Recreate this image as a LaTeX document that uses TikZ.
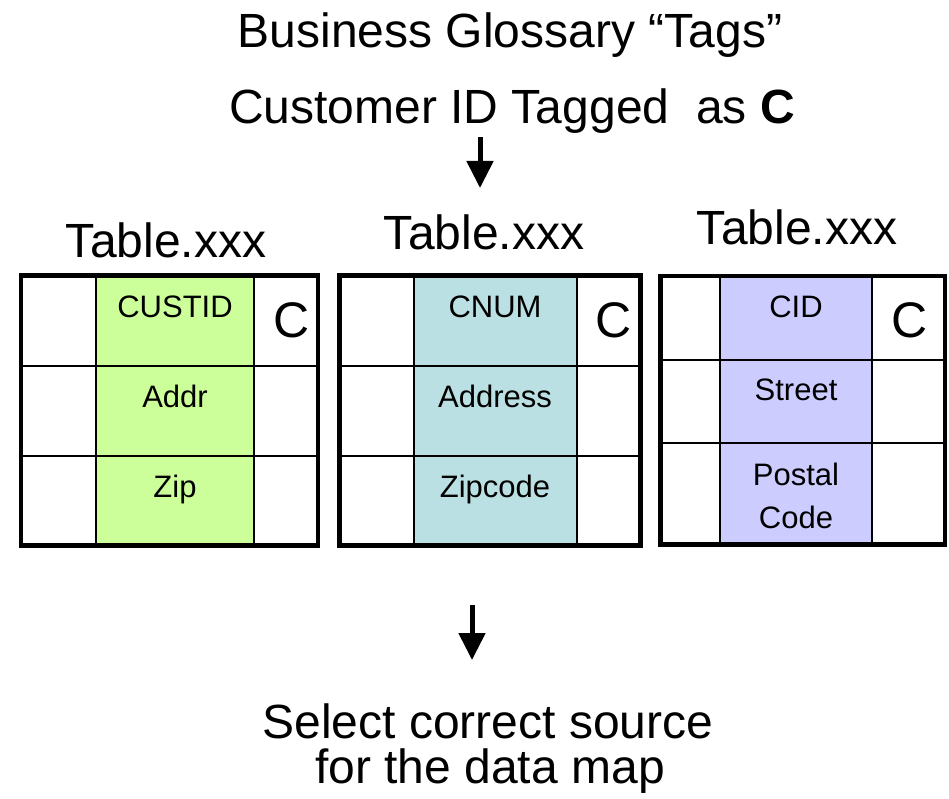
\documentclass[tikz,border=0pt]{standalone}
\usepackage{fontspec}
\setmainfont{Liberation Sans}
\usetikzlibrary{arrows.meta}
\definecolor{custgreen}{HTML}{CCFF99}
\definecolor{cnumteal}{HTML}{BBE0E3}
\definecolor{cidlilac}{HTML}{CCCCFF}
\tikzset{
	big/.style={font=\fontsize{48}{55}\selectfont,inner sep=0pt,anchor=base},
	small/.style={font=\fontsize{31}{37}\selectfont,inner sep=0pt,anchor=base},
	tagmark/.style={font=\fontsize{50}{57}\selectfont,inner sep=0pt,anchor=base},
	frame/.style={line width=4.5pt},
	rule/.style={line width=2pt},
	fat arrow/.style={line width=5pt,-{Triangle[width=26pt,length=27pt]}}
}
\begin{document}
\begin{tikzpicture}[x=1pt,y=-1pt]
			\useasboundingbox (0,0) rectangle (949,799);
			\node at (510,48)  [big] (glossary) {Business Glossary “Tags”};
			\node at (512,124) [big] (tagged)   {Customer ID Tagged\ \ as \textbf{C}};

			\coordinate (tag_from) at (480,137);
			\coordinate (tag_to)   at (480,188);
			\draw[fat arrow] (tag_from) -- (tag_to);

			% first table
			\node at (166,258) [big] (title_custid) {Table.xxx};
			\fill[custgreen] (96,275.5) rectangle (254,545.5);
			\draw[rule] (96,275.5) -- (96,545.5) (254,275.5) -- (254,545.5) (21,366) -- (318,366) (21,456) -- (318,456);
			\draw[frame] (21,275.5) rectangle (318,545.5);
			\node at (175,317) [small] (custid) {CUSTID};
			\node at (175,407) [small] (addr)   {Addr};
			\node at (175,497) [small] (zip)    {Zip};
			\node at (292,337) [tagmark] (tag_custid) {C};

			% second table
			\node at (484,250) [big] (title_cnum) {Table.xxx};
			\fill[cnumteal] (414,275.5) rectangle (577,545.5);
			\draw[rule] (414,275.5) -- (414,545.5) (577,275.5) -- (577,545.5) (339.5,366) -- (640.5,366) (339.5,456) -- (640.5,456);
			\draw[frame] (339.5,275.5) rectangle (640.5,545.5);
			\node at (495,317) [small] (cnum)    {CNUM};
			\node at (495,407) [small] (address) {Address};
			\node at (495,497) [small] (zipcode) {Zipcode};
			\node at (614,337) [tagmark] (tag_cnum) {C};

			% third table
			\node at (797,245) [big] (title_cid) {Table.xxx};
			\fill[cidlilac] (720,276) rectangle (872,544.5);
			\draw[rule] (720,276) -- (720,544.5) (872,276) -- (872,544.5) (660.5,359.5) -- (945,359.5) (660.5,443) -- (945,443);
			\draw[frame] (660.5,276) rectangle (945,544.5);
			\node at (796,317) [small] (cid)    {CID};
			\node at (796,400) [small] (street) {Street};
			\node at (796,485) [small] (postal) {Postal};
			\node at (796,528) [small] (code)   {Code};
			\node at (910,337) [tagmark] (tag_cid) {C};

			\coordinate (map_from) at (472,605);
			\coordinate (map_to)   at (472,660);
			\draw[fat arrow] (map_from) -- (map_to);

			\node at (488,738) [big] (select)  {Select correct source};
			\node at (490,783) [big] (datamap) {for the data map};
\end{tikzpicture}
\end{document}
